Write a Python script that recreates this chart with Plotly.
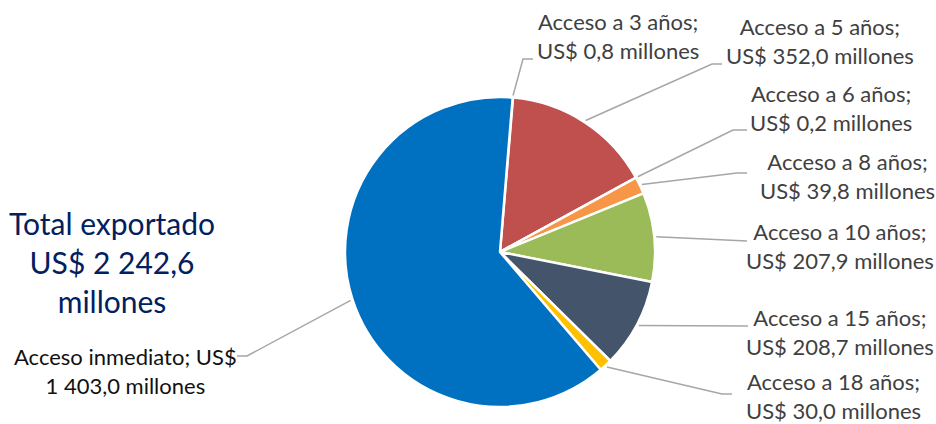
import math
import plotly.graph_objects as go

# data
categorias = ["Acceso a 3 años", "Acceso a 5 años", "Acceso a 6 años", "Acceso a 8 años",
              "Acceso a 10 años", "Acceso a 15 años", "Acceso a 18 años", "Acceso inmediato"]
valores = [0.8, 352.0, 0.2, 39.8, 207.9, 208.7, 30.0, 1403.0]
etiquetas_valor = ["0,8", "352,0", "0,2", "39,8", "207,9", "208,7", "30,0", "1 403,0"]
colores = ["#A5A5A5", "#C0504D", "#4BACC6", "#F79646", "#9BBB59", "#44546A", "#FFC000", "#0070C0"]
total_txt = "Total exportado<br>US$ 2 242,6<br>millones"

W, H = 936, 424
cx, cy, r = 500, 252, 155
rotacion = 4.7

# label anchor (elbow -> end of leader), label centre
elbows = [
    [(523, 59), (533, 59)],
    [(712, 64), (722, 64)],
    [(733, 130), (747, 130)],
    [(737, 173), (747, 173)],
    [(737, 241), (747, 241)],
    [(738, 326), (748, 326)],
    [(722, 394), (732, 394)],
    [(247, 356), (237, 356)],
]
label_pos = [(618, 36), (820, 41), (831, 108), (847, 176), (840, 246), (840, 332), (833, 396), (125, 371)]

fig = go.Figure()

fig.add_trace(go.Pie(
    labels=categorias, values=valores, sort=False, direction="clockwise",
    rotation=rotacion, textinfo="none", hoverinfo="label+value",
    marker=dict(colors=colores, line=dict(color="white", width=2.5)),
    domain=dict(x=[(cx - r) / W, (cx + r) / W], y=[1 - (cy + r) / H, 1 - (cy - r) / H]),
    showlegend=False,
))

# leader lines from slice midpoints
total = sum(valores)
acum = 0
for i, v in enumerate(valores):
    ang = math.radians(rotacion + (acum + v / 2) / total * 360)
    acum += v
    x0 = cx + (r + 2) * math.sin(ang)
    y0 = cy - (r + 2) * math.cos(ang)
    xs = [x0] + [p[0] for p in elbows[i]]
    ys = [y0] + [p[1] for p in elbows[i]]
    fig.add_trace(go.Scatter(x=xs, y=ys, mode="lines", line=dict(color="#A6A6A6", width=1.5),
                             hoverinfo="skip", showlegend=False))
    lx, ly = label_pos[i]
    if i == len(valores) - 1:
        txt = f"{categorias[i]}; US$<br>{etiquetas_valor[i]} millones"
        col = "#111111"
    else:
        txt = f"{categorias[i]};<br>US$ {etiquetas_valor[i]} millones"
        col = "#404040"
    fig.add_annotation(x=lx, y=ly, text=txt, showarrow=False, align="center",
                       xanchor="center", yanchor="middle",
                       font=dict(family="Lato", size=22, color=col))

fig.add_annotation(x=112, y=262, text=total_txt, showarrow=False, align="center",
                   xanchor="center", yanchor="middle",
                   font=dict(family="Lato", size=30, color="#002060"))

fig.update_layout(
    width=W, height=H, margin=dict(l=0, r=0, t=0, b=0),
    paper_bgcolor="white", plot_bgcolor="white",
    xaxis=dict(range=[0, W], visible=False, domain=[0, 1], fixedrange=True),
    yaxis=dict(range=[H, 0], visible=False, domain=[0, 1], fixedrange=True),
)

fig.write_html("out.html", config={"displayModeBar": False},
               post_script="document.body.style.margin='0';document.body.style.overflow='hidden';")
